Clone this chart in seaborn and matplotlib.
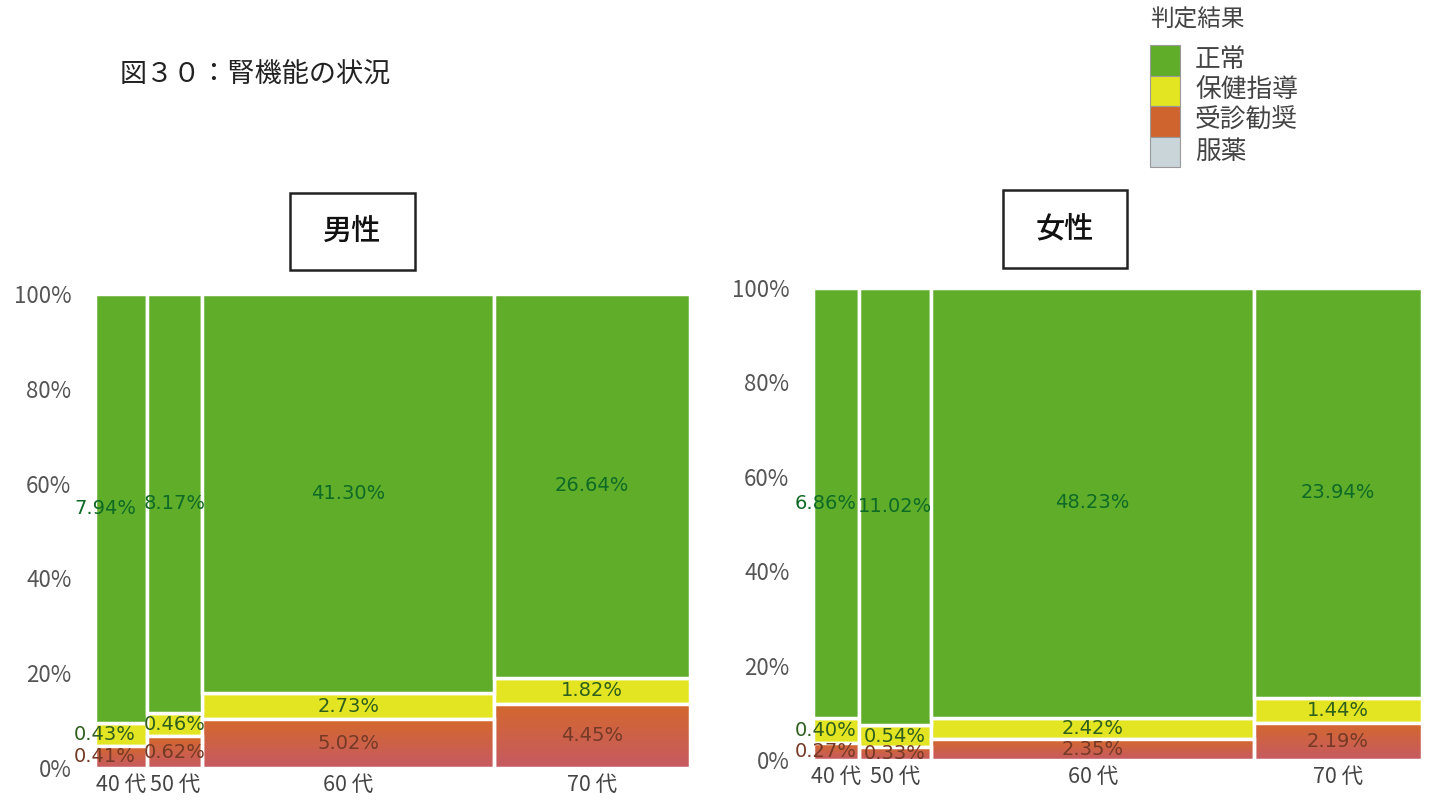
import numpy as np
import pandas as pd
import matplotlib
matplotlib.use("Agg")
import matplotlib.pyplot as plt
import matplotlib.colors as mcolors
import matplotlib.transforms as mtransforms
from matplotlib.patches import Rectangle
from matplotlib.ticker import PercentFormatter
import seaborn as sns

# Share of all examinees (%) per age group and judgement
ages = ["40 代", "50 代", "60 代", "70 代"]
results = ["正常", "保健指導", "受診勧奨", "服薬"]

male_normal = [7.94, 8.17, 41.30, 26.64]
male_guidance = [0.43, 0.46, 2.73, 1.82]
male_referral = [0.41, 0.62, 5.02, 4.45]

female_normal = [6.86, 11.02, 48.23, 23.94]
female_guidance = [0.40, 0.54, 2.42, 1.44]
female_referral = [0.27, 0.33, 2.35, 2.19]

sns.set_theme(style="white")
plt.rcParams["font.family"] = ["Noto Sans CJK JP", "DejaVu Sans"]

palette = {"正常": "#60ad2a", "保健指導": "#e3e522", "受診勧奨": "#d0642f", "服薬": "#c9d5d9"}
label_colors = {"正常": "#0e6a25", "保健指導": "#2f5f1c", "受診勧奨": "#743a26"}
stack_order = ["正常", "保健指導", "受診勧奨"]


def add_gradient(ax, patch, top_rgb, bottom_rgb):
    bb = patch.get_bbox()
    grad = np.linspace(0, 1, 64)[:, None]
    top = np.array(mcolors.to_rgb(top_rgb))
    bot = np.array(mcolors.to_rgb(bottom_rgb))
    img = top[None, None, :] * (1 - grad[..., None]) + bot[None, None, :] * grad[..., None]
    im = ax.imshow(img, extent=(bb.x0, bb.x1, bb.y0, bb.y1), origin="upper",
                   aspect="auto", zorder=patch.get_zorder() + 0.1, interpolation="bilinear")
    im.set_clip_path(patch)
    edge = Rectangle((bb.x0, bb.y0), bb.width, bb.height, facecolor="none",
                     edgecolor="white", linewidth=2.5, zorder=patch.get_zorder() + 0.2)
    ax.add_patch(edge)


def mosaic(ax, fig, normal, guidance, referral, first_shift):
    shares = {"正常": normal, "保健指導": guidance, "受診勧奨": referral}
    totals = np.sum([normal, guidance, referral], axis=0)
    edges = np.concatenate([[0], np.cumsum(totals)])
    edges = edges / edges[-1] * 100
    mids = (edges[:-1] + edges[1:]) / 2

    rows = []
    for res, vals in shares.items():
        for i, v in enumerate(vals):
            rows.append({"x": mids[i], "判定結果": res, "h": v / totals[i] * 100, "share": v})
    df = pd.DataFrame(rows)

    sns.histplot(data=df, x="x", weights="h", hue="判定結果", hue_order=stack_order,
                 bins=[float(e) for e in edges], multiple="stack", palette=palette,
                 edgecolor="white", linewidth=2.5, alpha=1, legend=False, ax=ax)

    # soft shading on the referral cells
    red = mcolors.to_rgba(palette["受診勧奨"])
    for p in list(ax.patches):
        if np.allclose(p.get_facecolor(), red, atol=0.02):
            add_gradient(ax, p, "#d4682c", "#c65a63")

    # value labels centred in each cell; the narrow first column is nudged left
    for i in range(len(ages)):
        base = 0.0
        dx = first_shift if i == 0 else 0
        trans = ax.transData + mtransforms.ScaledTranslation(dx / 100, 0, fig.dpi_scale_trans)
        for res in ["受診勧奨", "保健指導", "正常"]:
            v = shares[res][i]
            h = v / totals[i] * 100
            ax.text(mids[i], base + h / 2, f"{v:.2f}%", ha="center", va="center",
                    fontsize=14, color=label_colors[res], zorder=10,
                    family=["DejaVu Sans"], transform=trans)
            base += h

    ax.set_xlim(0, 100)
    ax.set_ylim(0, 100)
    ax.set_xticks(mids)
    ax.set_xticklabels(ages)
    ax.set_yticks(np.arange(0, 101, 20))
    ax.yaxis.set_major_formatter(PercentFormatter(decimals=0))
    ax.tick_params(axis="y", pad=17, labelsize=16, labelcolor="#555555", length=0)
    ax.tick_params(axis="x", pad=4, labelsize=15.5, labelcolor="#444444", length=0)
    ax.set_xlabel("")
    ax.set_ylabel("")
    sns.despine(ax=ax, left=True, bottom=True)


fig = plt.figure(figsize=(14.29, 8.01), dpi=100)
W, H = 1429, 801


def fig_axes(x0, x1, y_top, y_bottom):
    return fig.add_axes([x0 / W, 1 - y_bottom / H, (x1 - x0) / W, (y_bottom - y_top) / H])


ax_m = fig_axes(95, 690, 294, 768)
ax_f = fig_axes(813, 1422, 288, 760)
mosaic(ax_m, fig, male_normal, male_guidance, male_referral, first_shift=-16)
mosaic(ax_f, fig, female_normal, female_guidance, female_referral, first_shift=-10)

# figure title
fig.text(120 / W, 1 - 75 / H, "図３０：腎機能の状況", fontsize=19.5, ha="left", va="center", color="#222222")

# boxed panel headings
for (x0, x1, y0, y1, name) in [(290, 415, 193, 270, "男性"), (1003, 1127, 190, 268, "女性")]:
    fig.patches.append(Rectangle((x0 / W, 1 - y1 / H), (x1 - x0) / W, (y1 - y0) / H,
                                 transform=fig.transFigure, facecolor="white",
                                 edgecolor="#222222", linewidth=1.8))
    fig.text((x0 + x1) / 2 / W, 1 - (y0 + y1) / 2 / H, name, fontsize=21, ha="center",
             va="center", color="#111111", fontweight="medium")

# legend
fig.text(1150 / W, 1 - 20 / H, "判定結果", fontsize=17, ha="left", va="center", color="#444444")
for k, res in enumerate(results):
    y0 = 45 + 30.5 * k
    fig.patches.append(Rectangle((1150 / W, 1 - (y0 + 30.5) / H), 30 / W, 30.5 / H,
                                 transform=fig.transFigure, facecolor=palette[res],
                                 edgecolor="#9a9a9a", linewidth=0.8))
    fig.text(1195 / W, 1 - (y0 + 15) / H, res, fontsize=18.5, ha="left", va="center", color="#444444")

fig.savefig("out.png", dpi=100, facecolor="white")
